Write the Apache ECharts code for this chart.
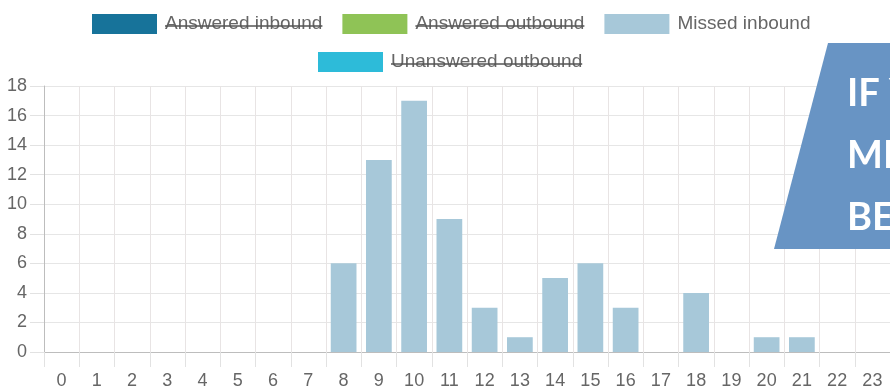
<!DOCTYPE html>
<html lang="en">

<head>
    <meta charset="UTF-8">
    <title>Calls per hour</title>
    <script src="https://cdn.jsdelivr.net/npm/echarts@6/dist/echarts.min.js"></script>
    <style>
        * {
            margin: 0;
            padding: 0;
        }

        #main {
            width: 890px;
            height: 390px;
        }
    </style>
</head>

<body>
    <div id="main"></div>
    <script>
        // hours of the day
        var hours = ['0', '1', '2', '3', '4', '5', '6', '7', '8', '9', '10', '11',
            '12', '13', '14', '15', '16', '17', '18', '19', '20', '21', '22', '23'];
        // only "Missed inbound" is shown, the others are switched off in the legend
        var answeredInbound = [];
        var answeredOutbound = [];
        var missedInbound = [0, 0, 0, 0, 0, 0, 0, 0, 6, 13, 17, 9, 3, 1, 5, 6, 3, 0, 4, 0, 1, 1, 0, 0];
        var unansweredOutbound = [];
        var struckNames = ['Answered inbound', 'Answered outbound', 'Unanswered outbound'];
        var bannerLines = ['IF Y', 'MI', 'BE'];

        var legendFont = 19;
        var legendFamily = 'Liberation Sans, Arial, sans-serif';
        var textColor = '#666';

        // measure legend text so the strike lines sit on the words
        var ctx = document.createElement('canvas').getContext('2d');
        ctx.font = legendFont + 'px Liberation Sans';
        function tw(s) { return ctx.measureText(s).width; }

        var iconW = 65, iconGap = 5, textPad = 3, itemGap = 20;
        var row1Left = 92, row1Y = 25;
        var row2Left = 318, row2Y = 63;

        var strikes = [];
        // row 1: Answered inbound, Answered outbound, Missed inbound
        var x = row1Left;
        ['Answered inbound', 'Answered outbound', 'Missed inbound'].forEach(function (n) {
            var tx = x + iconW + iconGap + textPad;
            if (struckNames.indexOf(n) >= 0) {
                strikes.push({ x1: tx, x2: tx + tw(n), y: row1Y + 1 });
            }
            x = tx + tw(n) + itemGap;
        });
        // row 2: Unanswered outbound
        var tx2 = row2Left + iconW + iconGap + textPad;
        strikes.push({ x1: tx2, x2: tx2 + tw('Unanswered outbound'), y: row2Y + 1 });

        var graphics = strikes.map(function (s) {
            return {
                type: 'line',
                shape: { x1: s.x1, y1: s.y, x2: s.x2, y2: s.y },
                style: { stroke: '#555', lineWidth: 1.5 },
                z: 100
            };
        });
        graphics.push({
            type: 'polygon',
            shape: { points: [[828, 43], [774, 249], [900, 249], [900, 43]] },
            style: { fill: '#6894c4' },
            z: 100
        });
        bannerLines.forEach(function (t, i) {
            graphics.push({
                type: 'text',
                left: 847,
                top: 75 + i * 62,
                style: {
                    text: t,
                    fill: '#fff',
                    font: 'bold 38px Lato'
                },
                z: 101
            });
        });

        var chartDom = document.getElementById('main');
        var myChart = echarts.init(chartDom);

        var legendText = {
            color: textColor,
            fontSize: legendFont,
            fontFamily: legendFamily,
            padding: [0, 0, 0, textPad]
        };

        option = {
            backgroundColor: '#fff',
            animation: false,
            color: ['#17739a', '#8fc356', '#a7c8d9', '#2dbbd9'],
            legend: [{
                data: ['Answered inbound', 'Answered outbound', 'Missed inbound'],
                left: row1Left,
                top: row1Y - 11,
                padding: 0,
                itemWidth: iconW,
                itemHeight: 20,
                itemGap: itemGap,
                icon: 'rect',
                selectedMode: false,
                textStyle: legendText
            }, {
                data: ['Unanswered outbound'],
                left: row2Left,
                top: row2Y - 11,
                padding: 0,
                itemWidth: iconW,
                itemHeight: 20,
                icon: 'rect',
                selectedMode: false,
                textStyle: legendText
            }],
            grid: {
                left: 44,
                right: -6,
                top: 86,
                bottom: 34,
                containLabel: false
            },
            xAxis: {
                type: 'category',
                data: hours,
                boundaryGap: true,
                axisLine: { lineStyle: { color: '#bdbdbd' } },
                axisTick: { show: true, length: 15, interval: 0, lineStyle: { color: '#e2e2e2' } },
                splitLine: { show: true, interval: 0, lineStyle: { color: '#e8e4e4' } },
                axisLabel: {
                    interval: 0,
                    margin: 20,
                    color: textColor,
                    fontSize: 18,
                    fontFamily: legendFamily
                }
            },
            yAxis: {
                type: 'value',
                min: 0,
                max: 18,
                interval: 2,
                axisLine: { show: true, lineStyle: { color: '#bdbdbd' } },
                axisTick: { show: true, length: 14, lineStyle: { color: '#e2e2e2' } },
                splitLine: { lineStyle: { color: '#e6e6e6' } },
                axisLabel: {
                    margin: 17,
                    color: textColor,
                    fontSize: 18,
                    fontFamily: legendFamily
                }
            },
            series: [{
                name: 'Answered inbound',
                type: 'bar',
                stack: 'calls',
                barWidth: '73%',
                data: answeredInbound
            }, {
                name: 'Answered outbound',
                type: 'bar',
                stack: 'calls',
                data: answeredOutbound
            }, {
                name: 'Missed inbound',
                type: 'bar',
                stack: 'calls',
                data: missedInbound
            }, {
                name: 'Unanswered outbound',
                type: 'bar',
                stack: 'calls',
                data: unansweredOutbound
            }],
            graphic: graphics
        };
        myChart.setOption(option);
    </script>
</body>

</html>
